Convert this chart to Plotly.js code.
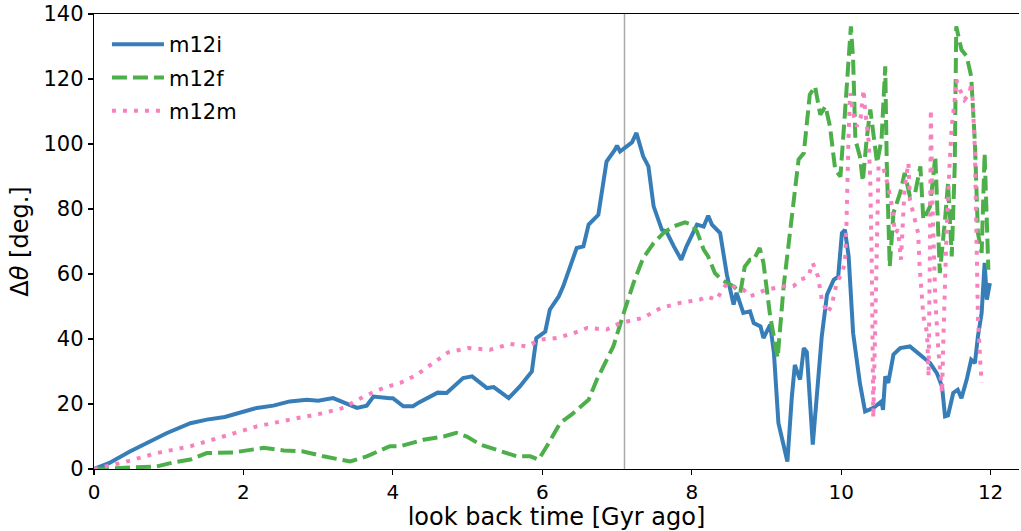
<!DOCTYPE html>
<html>
<head>
<meta charset="utf-8">
<script src="https://cdn.plot.ly/plotly-3.0.1.min.js"></script>
<style>html,body{margin:0;padding:0;background:#fff;}#chart{width:1021px;height:531px;}</style>
</head>
<body>
<div id="chart"></div>
<script>
// m12i
const m12iTime = [0,0.2,0.48,0.7,0.97,1.29,1.51,1.75,1.95,2.18,2.4,2.62,2.85,3.0,3.2,3.35,3.52,3.65,3.74,3.96,4.0,4.14,4.27,4.35,4.5,4.6,4.72,4.85,4.94,5.06,5.15,5.26,5.35,5.45,5.55,5.7,5.86,5.92,5.95,6.04,6.1,6.13,6.22,6.28,6.37,6.46,6.55,6.62,6.75,6.86,6.97,7.0,7.04,7.15,7.2,7.26,7.35,7.42,7.49,7.6,7.66,7.76,7.86,7.93,8.07,8.16,8.22,8.27,8.38,8.47,8.56,8.6,8.69,8.78,8.83,8.92,8.96,9.05,9.1,9.16,9.23,9.28,9.34,9.38,9.41,9.45,9.5,9.54,9.62,9.67,9.74,9.81,9.9,9.96,10.01,10.05,10.1,10.16,10.25,10.32,10.43,10.54,10.56,10.59,10.63,10.7,10.79,10.92,11.06,11.19,11.28,11.35,11.39,11.43,11.5,11.56,11.61,11.68,11.74,11.79,11.83,11.88,11.92,11.95,11.99];
const m12iAngle = [0,1.8,5.4,8,11,14.1,15.2,16,17.2,18.8,19.5,20.8,21.3,21,21.8,20.5,18.8,19.5,22.3,21.8,21.8,19.3,19.3,20.5,22.5,23.5,23.4,26,28,28.5,27,24.9,25.2,23.5,21.8,25.4,30,40.3,40.8,42.3,49,50,53.1,56.2,62.3,68,68.5,75.2,78.2,94.6,98.2,99.5,97.7,99.8,100.5,103.4,96.2,93.1,80.8,73.6,73.1,68.5,64.4,68.5,75.2,74.6,77.9,75.2,72.6,59.8,50.6,54.2,48,48.5,44.9,43.9,40.3,44.4,35.7,14.2,7,2.3,22.3,32,30,27.5,37.2,36,7.5,21.3,40.8,53.6,58.2,59.2,72.6,73.6,65.4,41.8,26.5,17.7,18.8,20.8,18.2,28.5,26.5,35.2,37.2,37.7,35.2,32.6,29.5,25.4,16.2,16.5,23.4,24.4,21.8,27.5,33.6,32.6,40.8,48,63.4,52.1,57.2];

// m12f
const m12fTime = [0,0.39,0.84,1.06,1.29,1.51,1.87,2.27,2.54,2.8,3.07,3.43,3.65,3.96,4.1,4.41,4.68,4.85,4.99,5.17,5.39,5.66,5.84,5.95,6.06,6.24,6.39,6.51,6.62,6.73,6.95,7.09,7.22,7.35,7.49,7.62,7.75,7.91,8.0,8.07,8.16,8.22,8.31,8.4,8.56,8.65,8.71,8.78,8.83,8.91,8.96,9.05,9.15,9.23,9.34,9.43,9.5,9.58,9.65,9.72,9.79,9.85,9.92,9.99,10.05,10.1,10.13,10.16,10.19,10.25,10.29,10.34,10.39,10.43,10.48,10.54,10.59,10.61,10.65,10.7,10.79,10.85,10.92,10.99,11.06,11.1,11.19,11.26,11.32,11.39,11.43,11.48,11.52,11.54,11.61,11.68,11.74,11.79,11.83,11.88,11.92,11.94,11.97];
const m12fAngle = [0,0.3,0.8,2,2.9,4.9,5.1,6.5,5.7,5.4,3.9,2.3,3.9,7,7,9,10,11.1,10,7.5,5.9,3.9,3.9,2.9,7,14.2,16.7,19.3,21.3,27.5,37.7,48,57.2,64.9,69.5,72.6,74.6,75.9,75.2,73.1,67.5,65.4,60.3,58.2,56.2,54.2,62.3,64.4,64.4,68,63.4,47,34.2,56.2,78.8,95.2,97.2,115.2,117.7,109,111.6,105.4,92.1,90,109.5,123.9,136.2,126,101.3,96.2,88.5,101.3,110.6,103.4,94.2,101.3,123.9,94.2,62.3,78.8,85,91.1,83.9,85,93.1,76.7,80.8,96.2,60.3,76.7,88,65.4,93.1,136.2,129,127,120.8,100.3,72.6,66.5,97.2,82.9,61.3];

// m12m
const m12mTime = [0,0.39,0.84,1.29,1.73,2.18,2.62,3.07,3.34,3.61,3.87,4.1,4.32,4.54,4.74,5.01,5.3,5.57,5.79,5.97,6.19,6.42,6.6,6.86,7.04,7.35,7.58,7.84,8.11,8.2,8.33,8.47,8.56,8.69,8.78,9.0,9.23,9.36,9.45,9.56,9.62,9.69,9.74,9.81,9.87,9.94,10.01,10.05,10.07,10.1,10.12,10.16,10.21,10.26,10.3,10.32,10.37,10.39,10.41,10.43,10.45,10.5,10.56,10.63,10.68,10.72,10.76,10.8,10.85,10.9,10.92,10.97,11.03,11.05,11.1,11.15,11.17,11.19,11.2,11.22,11.26,11.3,11.35,11.37,11.41,11.45,11.48,11.52,11.54,11.59,11.65,11.72,11.74,11.76,11.79,11.81,11.83,11.86,11.88];
const m12mAngle = [0,2,4.9,7,10,13.1,15.2,17.2,18.8,22.3,24.9,26.5,29,32.6,35.9,37.2,36.7,38.5,37.7,39.8,40.3,41.8,43.4,42.9,44.9,46.5,49.5,51.1,52.1,53.1,52.1,57.2,56.2,55.2,53.1,55.2,56.2,56.2,58.2,59.2,63.4,59.2,52.1,48,50,57.2,60.3,63.4,74.6,103.4,115.7,109.5,105.4,108,116.7,110.6,100.3,88,62.3,15.7,41.8,93.1,93.1,86.9,80.8,72.6,73.6,64.4,86.9,94.2,82.9,77.7,72.6,62.3,47,41.8,28.5,72.6,110.6,82.9,52.1,36.7,23.4,41.8,72.6,93.1,105.4,113.6,119.8,116.7,113.6,115.7,118.8,113.6,98.2,72.6,47,33.6,26.5];

const seriesNames = ['m12i','m12f','m12m'];
const markerTime = 7.1;
const xTicks = [0,2,4,6,8,10,12];
const yTicks = [0,20,40,60,80,100,120,140];

const font = 'DejaVu Sans, sans-serif';
const traces = [
  {x: m12iTime, y: m12iAngle, name: seriesNames[0], legendgroup: 'a', mode: 'lines',
   line: {color: '#377eb8', width: 4}},
  {x: m12fTime, y: m12fAngle, name: seriesNames[1], legendgroup: 'b', mode: 'lines',
   line: {color: '#4daf4a', width: 4, dash: '15px,6px'}},
  {x: m12mTime, y: m12mAngle, name: seriesNames[2], legendgroup: 'c', mode: 'lines',
   line: {color: '#f781bf', width: 4, dash: '4px,7px'}}
];

const layout = {
  width: 1021, height: 531,
  margin: {l: 94, r: 2, t: 14, b: 62},
  paper_bgcolor: '#fff', plot_bgcolor: '#fff',
  font: {family: font, color: '#000', size: 20},
  showlegend: true,
  legend: {x: 0.014, y: 0.978, xanchor: 'left', yanchor: 'top', bgcolor: 'rgba(0,0,0,0)',
           font: {size: 21, family: font}, traceorder: 'grouped', tracegroupgap: 3, itemwidth: 52},
  xaxis: {range: [0, 12.38], tickvals: xTicks, ticktext: xTicks.map(String),
          showgrid: false, zeroline: false, showline: true, mirror: true, linecolor: '#000', linewidth: 1.3,
          ticks: 'outside', ticklen: 5, tickwidth: 1.2, tickcolor: '#000',
          tickfont: {size: 20, family: font},
          title: {text: 'look back time [Gyr ago]', font: {size: 24, family: font}, standoff: 3}},
  yaxis: {range: [0, 140], tickvals: yTicks, ticktext: yTicks.map(String),
          showgrid: false, zeroline: false, showline: true, mirror: false, linecolor: '#000', linewidth: 1.3,
          ticks: 'outside', ticklen: 5, tickwidth: 1.2, tickcolor: '#000',
          tickfont: {size: 21, family: font},
          title: {text: 'Δ<i>θ</i> [deg.]', font: {size: 24, family: font}, standoff: 8}},
  shapes: [{type: 'line', xref: 'x', yref: 'paper', x0: markerTime, x1: markerTime, y0: 0, y1: 1,
            line: {color: '#aaaaaa', width: 1.5}, layer: 'below'}]
};

Plotly.newPlot('chart', traces, layout, {displayModeBar: false, staticPlot: true});
</script>
</body>
</html>
